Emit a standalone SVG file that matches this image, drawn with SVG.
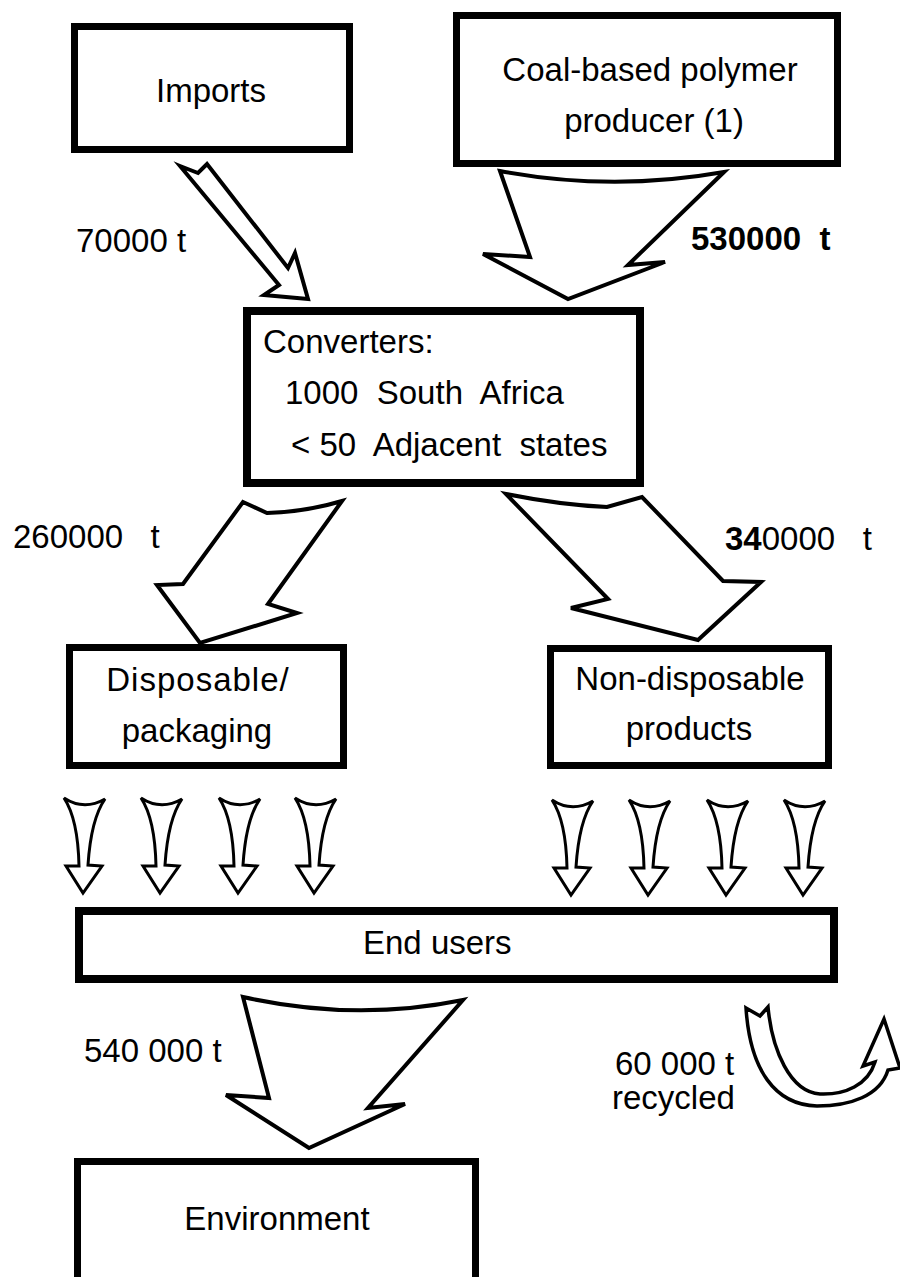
<svg xmlns="http://www.w3.org/2000/svg" xmlns:xlink="http://www.w3.org/1999/xlink" width="900" height="1277" viewBox="0 0 900 1277">
<style>
.box{fill:#fff;stroke:#000;stroke-width:7}
.t{font-family:"Liberation Sans",Arial,sans-serif;font-size:33px;fill:#000}
.c{text-anchor:middle}
.big{fill:#fff;stroke:#000;stroke-width:4;stroke-linejoin:miter}
.sm{fill:#fff;stroke:#000;stroke-width:3;stroke-linejoin:miter}
</style>
<defs>
<path id="small" class="sm" d="M-20,1 Q0,14 21,2 Q7,22 4,68 L18,69 L-1,96 L-18,69 L-5,69 Q-6,22 -20,1 Z"/>
</defs>
<rect width="900" height="1277" fill="#fff"/>

<g id="connectors">
<polygon class="big" points="180,166 198,173 207,164 288,268 295,253 308,299 264,295 279,285"/>
<path class="big" d="M500,171 Q612,192 724,172 L628,265 L665,262 L568,299 L483,254 L530,257 Z"/>
<path class="big" d="M243,502 L267,513 Q305,512 342,501 L268,604 L297,613 L200,643 L157,585 L183,584 Z"/>
<path class="big" d="M506,494 Q560,505 607,507 L642,497 L723,581 L761,582 L698,640 L571,608 L608,599 Z"/>
<path class="big" d="M243,997 Q355,1022 463,1000 L368,1108 L405,1104 L309,1148 L226,1095 L269,1098 Z"/>
<path class="big" style="stroke-width:3.5" d="M746,1008 L760,1016 L768,1007 C772,1050 790,1092 820,1094 C845,1095 868,1085 875,1062 L863,1066 L884,1019 L900,1068 L888,1070 C880,1096 850,1106 817,1106 C775,1105 750,1070 746,1008 Z"/>
<use xlink:href="#small" x="84" y="797"/>
<use xlink:href="#small" x="161" y="797"/>
<use xlink:href="#small" x="239" y="797"/>
<use xlink:href="#small" x="315" y="797"/>
<use xlink:href="#small" x="572" y="799"/>
<use xlink:href="#small" x="649" y="799"/>
<use xlink:href="#small" x="727" y="799"/>
<use xlink:href="#small" x="804" y="799"/>
</g>

<g id="labels">
<text class="t" x="76" y="252" xml:space="preserve">70000 t</text>
<text class="t" x="691" y="250" font-weight="bold" xml:space="preserve">530000  t</text>
<text class="t" x="13" y="548" font-size="32" xml:space="preserve">260000   t</text>
<text class="t" x="725" y="550" font-size="32" xml:space="preserve"><tspan font-weight="bold">34</tspan>0000   t</text>
<text class="t" x="84" y="1062">540 000 t</text>
<text class="t" x="615" y="1075">60 000 t</text>
<text class="t" x="612" y="1109">recycled</text>
</g>

<g id="imports">
<rect class="box" x="74.5" y="26.5" width="275" height="123"/>
<text class="t c" x="211" y="102">Imports</text>
</g>

<g id="coal-producer">
<rect class="box" x="456.5" y="15.5" width="381" height="148"/>
<text class="t c" x="650" y="81">Coal-based polymer</text>
<text class="t c" x="654" y="132">producer (1)</text>
</g>

<g id="converters">
<rect class="box" x="247" y="311" width="393" height="172" style="stroke-width:8"/>
<text class="t" x="263" y="353" font-size="32">Converters:</text>
<text class="t" x="285" y="404" font-size="32" xml:space="preserve">1000  South  Africa</text>
<text class="t" x="291" y="456" font-size="32" xml:space="preserve">&lt; 50  Adjacent  states</text>
</g>

<g id="disposable">
<rect class="box" x="69.5" y="647.5" width="274" height="118"/>
<text class="t c" x="198" y="691" letter-spacing="1">Disposable/</text>
<text class="t c" x="197" y="742">packaging</text>
</g>

<g id="non-disposable">
<rect class="box" x="550.5" y="648.5" width="278" height="117"/>
<text class="t c" x="690" y="690" font-size="34">Non-disposable</text>
<text class="t c" x="689" y="740" font-size="34">products</text>
</g>

<g id="end-users">
<rect class="box" x="79" y="911" width="755" height="68" style="stroke-width:8"/>
<text class="t" x="363" y="954" font-size="32">End users</text>
</g>

<g id="environment">
<rect class="box" x="77.5" y="1161.5" width="398" height="130"/>
<text class="t c" x="277" y="1230">Environment</text>
</g>
</svg>
